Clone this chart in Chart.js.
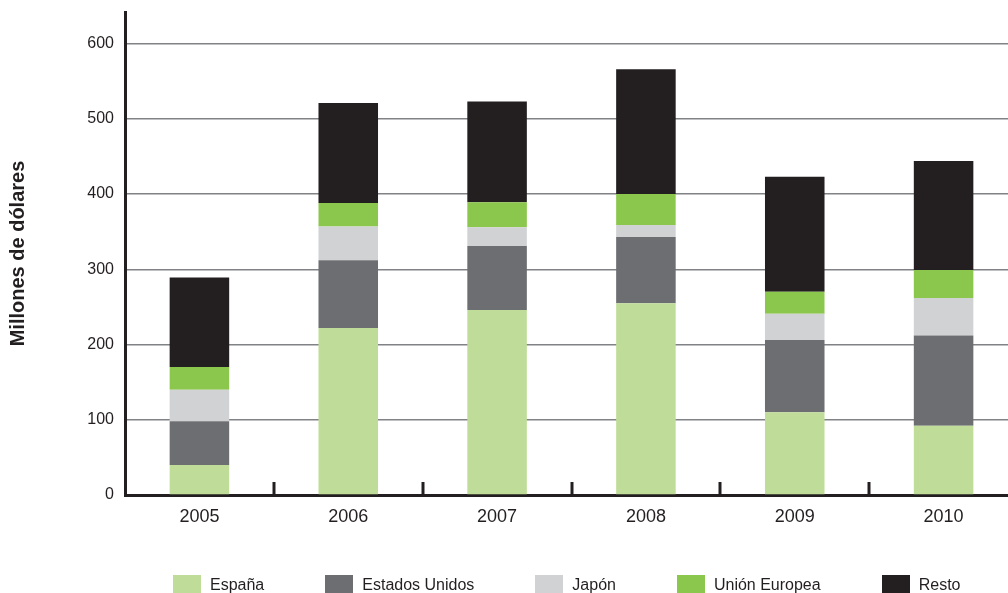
<!DOCTYPE html>
<html lang="es">
<head>
<meta charset="utf-8">
<title>Millones de dólares</title>
<script src="https://cdn.jsdelivr.net/npm/chart.js@4/dist/chart.umd.min.js"></script>
<style>
  html, body { margin: 0; padding: 0; background: #fff; }
  #wrap { position: relative; width: 1008px; height: 593px; overflow: hidden; }
  #chart-box { position: absolute; left: 0; top: 0; width: 1020px; height: 593px; }
  #legend {
    position: absolute; left: 173px; top: 575px; width: 900px;
    display: flex; font: 16px "Liberation Sans", Arial, sans-serif; color: #231f20;
    white-space: nowrap;
  }
  #legend .item { display: flex; flex-shrink: 0; align-items: flex-start; margin-right: 61px; }
  #legend .box { width: 28px; height: 18px; margin-right: 9px; }
  #legend .lbl { line-height: 18px; margin-top: 1px; }
</style>
</head>
<body>
<div id="wrap">
  <div id="chart-box"><canvas id="chart"></canvas></div>
  <div id="legend"></div>
</div>
<script>
'use strict';

// ── Data ──
const years         = ['2005', '2006', '2007', '2008', '2009', '2010'];
const espana        = [40, 222, 246, 255, 110, 92];
const estadosUnidos = [58,  90,  85,  88,  96, 120];
const japon         = [42,  45,  25,  16,  35,  50];
const unionEuropea  = [30,  31,  33,  41,  29,  37];
const resto         = [119, 133, 134, 166, 153, 145];
const yTicks        = [0, 100, 200, 300, 400, 500, 600];

const seriesNames  = ['España', 'Estados Unidos', 'Japón', 'Unión Europea', 'Resto'];
const seriesData   = [espana, estadosUnidos, japon, unionEuropea, resto];
const seriesColors = ['#bfdd99', '#6d6e71', '#d1d2d4', '#8cc74d', '#231f20'];

const INK  = '#231f20';
const FONT = '"Liberation Sans", Arial, sans-serif';

// short ticks between categories, standing up from the axis
const categoryTicks = {
  id: 'categoryTicks',
  afterDatasetsDraw(chart) {
    const x = chart.scales.x;
    const bottom = chart.chartArea.bottom;
    const ctx = chart.ctx;
    ctx.save();
    ctx.strokeStyle = INK;
    ctx.lineWidth = 3;
    for (let i = 0; i < years.length - 1; i++) {
      const px = Math.round((x.getPixelForValue(i) + x.getPixelForValue(i + 1)) / 2);
      ctx.beginPath();
      ctx.moveTo(px, bottom);
      ctx.lineTo(px, bottom - 13);
      ctx.stroke();
    }
    ctx.restore();
  }
};

new Chart(document.getElementById('chart'), {
  type: 'bar',
  data: {
    labels: years,
    datasets: seriesNames.map((name, i) => ({
      label: name,
      data: seriesData[i],
      backgroundColor: seriesColors[i],
      borderWidth: 0,
      barPercentage: 0.4,
      categoryPercentage: 1,
    }))
  },
  options: {
    responsive: true,
    maintainAspectRatio: false,
    animation: false,
    layout: { padding: { top: 12, right: 2, left: 0, bottom: 0 } },
    plugins: {
      legend:  { display: false },
      tooltip: { enabled: false },
    },
    scales: {
      x: {
        stacked: true,
        afterFit: s => { s.height = 98; },
        grid:   { display: true, drawOnChartArea: false, drawTicks: false },
        border: { display: true, color: INK, width: 3 },
        ticks:  { color: INK, padding: 11, font: { family: FONT, size: 18 } },
      },
      y: {
        stacked: true,
        min: 0,
        max: 642,
        afterFit: s => { s.width = 125; s.paddingTop = 0; s.paddingBottom = 0; },
        afterBuildTicks: s => { s.ticks = yTicks.map(v => ({ value: v })); },
        grid: {
          drawTicks: false,
          color: c => (c.tick && c.tick.value === 0) ? 'rgba(0,0,0,0)' : '#808285',
          lineWidth: 1.5,
        },
        border: { display: true, color: INK, width: 3 },
        ticks:  { color: INK, padding: 11, font: { family: FONT, size: 16 } },
        title: {
          display: true,
          text: 'Millones de dólares',
          color: INK,
          padding: { top: 6, bottom: 0 },
          font: { family: FONT, size: 20, weight: 'bold' },
        },
      }
    }
  },
  plugins: [categoryTicks]
});

// ── Legend (HTML, under the plot) ──
document.getElementById('legend').innerHTML = seriesNames.map((name, i) => `
  <div class="item">
    <div class="box" style="background:${seriesColors[i]}"></div>
    <div class="lbl">${name}</div>
  </div>`).join('');
</script>
</body>
</html>
